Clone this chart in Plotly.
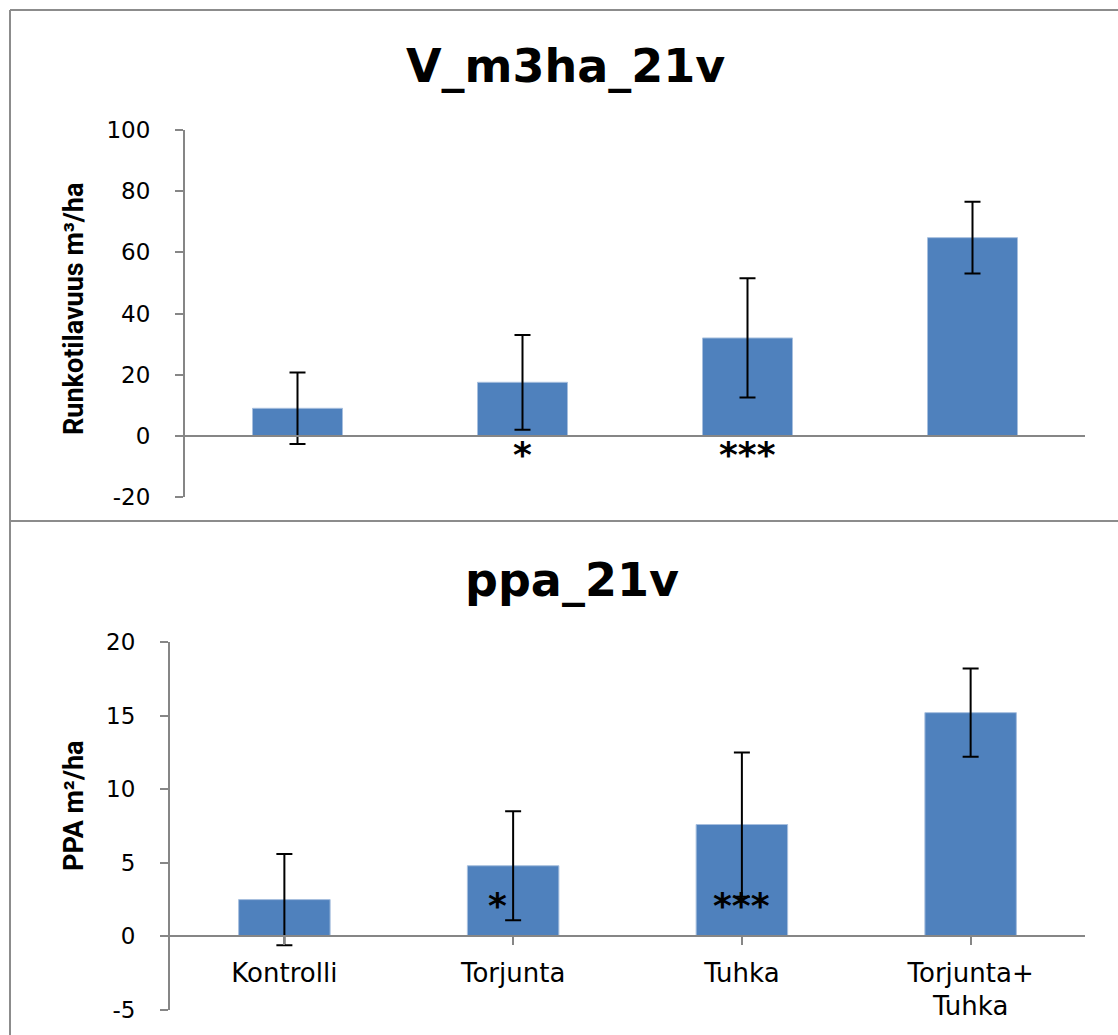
import plotly.graph_objects as go

W, H = 1118, 1035

categories = ["Kontrolli", "Torjunta", "Tuhka", "Torjunta+<br>Tuhka"]
vol_values = [9.0, 17.5, 32.0, 64.8]
vol_errors = [11.7, 15.5, 19.5, 11.7]
ppa_values = [2.5, 4.8, 7.6, 15.2]
ppa_errors = [3.1, 3.7, 4.9, 3.0]
vol_sig = ["", "*", "***", ""]
ppa_sig = ["", "*", "***", ""]

vol_ticks = [-20, 0, 20, 40, 60, 80, 100]
ppa_ticks = [-5, 0, 5, 10, 15, 20]

BAR = "#4F81BD"
AX = "#868686"
FONT = "DejaVu Sans"

def px(x):
    return x / W

def py(y):
    return 1 - y / H

fig = go.Figure()

xs = list(range(len(categories)))

fig.add_trace(go.Bar(
    x=xs, y=vol_values, xaxis="x", yaxis="y",
    marker=dict(color=BAR, line=dict(color="#A7BFDE", width=1)),
    error_y=dict(type="data", array=vol_errors, visible=True, color="black", thickness=2, width=8),
    showlegend=False, hoverinfo="skip",
))
fig.add_trace(go.Bar(
    x=xs, y=ppa_values, xaxis="x2", yaxis="y2",
    marker=dict(color=BAR, line=dict(color="#A7BFDE", width=1)),
    error_y=dict(type="data", array=ppa_errors, visible=True, color="black", thickness=2, width=8),
    showlegend=False, hoverinfo="skip",
))

# plot area pixel boxes
top_x0, top_x1, top_y0, top_y1 = 185, 1085, 130, 497   # y0 -> 100, y1 -> -20
bot_x0, bot_x1, bot_y0, bot_y1 = 170, 1085, 642, 1010  # y0 -> 20, y1 -> -5

def zero_pos(ytop, ybot, vmax, vmin):
    frac = (0 - vmin) / (vmax - vmin)
    return py(ybot) + frac * (py(ytop) - py(ybot))

yaxis_common = dict(
    showgrid=False, zeroline=False, showline=True, linecolor=AX, linewidth=2,
    ticks="outside", ticklen=8, tickcolor=AX, tickwidth=2, automargin=False,
    ticklabelstandoff=20,
    tickfont=dict(family=FONT, size=23, color="black"),
)

fig.update_layout(
    width=W, height=H,
    margin=dict(l=0, r=0, t=0, b=0, autoexpand=False),
    paper_bgcolor="white", plot_bgcolor="white",
    bargap=0.6,
    xaxis=dict(domain=[px(top_x0), px(top_x1)], range=[-0.5, 3.5], anchor="free",
               position=zero_pos(top_y0, top_y1, 100, -20), automargin=False,
               showgrid=False, zeroline=False, showline=True, linecolor=AX, linewidth=2,
               showticklabels=False, ticks=""),
    yaxis=dict(domain=[py(top_y1), py(top_y0)], range=[-20, 100], anchor="x",
               tickvals=vol_ticks, ticktext=[str(v) for v in vol_ticks], **yaxis_common),
    xaxis2=dict(domain=[px(bot_x0), px(bot_x1)], range=[-0.5, 3.5], anchor="free",
                position=zero_pos(bot_y0, bot_y1, 20, -5), automargin=False,
                showgrid=False, zeroline=False, showline=True, linecolor=AX, linewidth=2,
                tickvals=xs, ticktext=categories, tickson="boundaries",
                ticks="outside", ticklen=8, tickcolor=AX, tickwidth=2,
                ticklabelstandoff=5,
                tickfont=dict(family=FONT, size=26, color="black")),
    yaxis2=dict(domain=[py(bot_y1), py(bot_y0)], range=[-5, 20], anchor="x2",
                tickvals=ppa_ticks, ticktext=[str(v) for v in ppa_ticks], **yaxis_common),
)

# panel borders
for (x0, y0, x1, y1) in [(10, 10, 1118, 10), (10, 521, 1118, 521), (10, 10, 10, 1035)]:
    fig.add_shape(type="line", xref="paper", yref="paper",
                  x0=px(x0), y0=py(y0), x1=px(x1), y1=py(y1),
                  line=dict(color="#8C8C8C", width=2))

# titles
fig.add_annotation(text="<b>V_m3ha_21v</b>", xref="paper", yref="paper",
                   x=px(565), y=py(66), xanchor="center", yanchor="middle", showarrow=False,
                   font=dict(family=FONT, size=46, color="black"))
fig.add_annotation(text="<b>ppa_21v</b>", xref="paper", yref="paper",
                   x=px(572), y=py(580), xanchor="center", yanchor="middle", showarrow=False,
                   font=dict(family=FONT, size=46, color="black"))

# y-axis titles
fig.add_annotation(text="<b>Runkotilavuus m³/ha</b>", xref="paper", yref="paper",
                   x=px(74), y=py(309), xanchor="center", yanchor="middle",
                   showarrow=False, textangle=-90,
                   font=dict(family="Liberation Sans Narrow, Roboto", size=27, color="black"))
fig.add_annotation(text="<b>PPA m²/ha</b>", xref="paper", yref="paper",
                   x=px(74), y=py(806), xanchor="center", yanchor="middle",
                   showarrow=False, textangle=-90,
                   font=dict(family="Liberation Sans Narrow, Roboto", size=27, color="black"))

# significance markers
for i, s in enumerate(vol_sig):
    if s:
        fig.add_annotation(text="<b>" + s + "</b>", xref="x", yref="y", x=i, y=-6,
                           xanchor="center", yanchor="middle",
                           showarrow=False, font=dict(family="DejaVu Sans", size=36, color="black"))
for i, s in enumerate(ppa_sig):
    if s:
        fig.add_annotation(text="<b>" + s + "</b>", xref="x2", yref="y2", x=i, y=2.1,
                           xanchor="center", yanchor="middle",
                           xshift=-16 if s == "*" else 0,
                           showarrow=False, font=dict(family="DejaVu Sans", size=36, color="black"))

fig.write_html("out.html")
